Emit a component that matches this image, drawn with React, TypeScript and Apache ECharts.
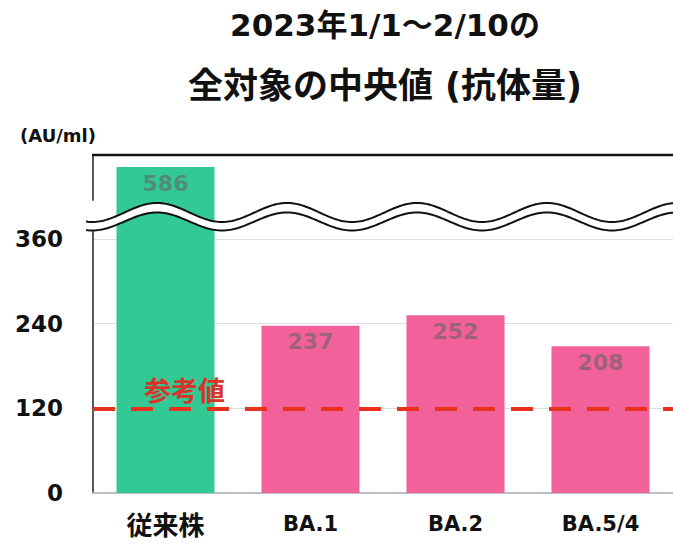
import React, { useEffect, useRef } from 'react';
import * as echarts from 'echarts';

const categories = ['従来株', 'BA.1', 'BA.2', 'BA.5/4'];
const values = [586, 237, 252, 208];
const barColors = ['#33C994', '#F2619A', '#F2619A', '#F2619A'];
const yTicks = [0, 120, 240, 360];
const referenceValue = 120;
const referenceLabel = '参考値';
const unitLabel = '(AU/ml)';
const titleLines = ['2023年1/1～2/10の', '全対象の中央値 (抗体量)'];

const FONT = '"DejaVu Sans", "Noto Sans CJK JP", sans-serif';

function wavePoints(center: number, amp: number, x0: number, x1: number): number[][] {
  const pts: number[][] = [];
  for (let x = x0; x <= x1; x += 2) {
    pts.push([x, center - amp * Math.cos((2 * Math.PI * (x - 157)) / 130)]);
  }
  return pts;
}

export default function App() {
  const ref = useRef<HTMLDivElement>(null);
  useEffect(() => {
    document.body.style.margin = '0';
    const chart = echarts.init(ref.current!, null, { renderer: 'svg' });
    const upper = wavePoints(212.5, 9.5, 86, 676);
    const lower = wavePoints(221.5, 9, 86, 676);
    const band = upper.concat(lower.slice().reverse());
    chart.setOption({
      animation: false,
      title: [
        {
          text: titleLines[0],
          left: 385,
          textAlign: 'center',
          top: 9,
          padding: 0,
          textStyle: { fontFamily: FONT, fontSize: 31, fontWeight: 'bold', color: '#111' },
        },
        {
          text: titleLines[1],
          left: 385,
          textAlign: 'center',
          top: 68,
          padding: 0,
          textStyle: { fontFamily: FONT, fontSize: 35, fontWeight: 'bold', color: '#111' },
        },
      ],
      grid: { left: 93, top: 155, width: 588, height: 338 },
      xAxis: {
        type: 'category',
        data: categories,
        axisLine: { show: true, lineStyle: { color: '#BFBFBF', width: 2 } },
        axisTick: { show: false },
        axisLabel: {
          interval: 0,
          hideOverlap: false,
          margin: 20,
          fontFamily: FONT,
          fontSize: 21,
          fontWeight: 'bold',
          color: '#111',
          formatter: (v: string) => (/[^\x00-\x7f]/.test(v) ? `{cjk|${v}}` : v),
          rich: {
            cjk: { fontFamily: FONT, fontSize: 26, fontWeight: 'bold', color: '#111' },
          },
        },
      },
      yAxis: {
        type: 'value',
        min: 0,
        max: 603,
        interval: 120,
        breaks: [{ start: 370, end: 540, gap: 46 }],
        breakArea: { show: false, expandOnClick: false },
        axisLine: { show: true, lineStyle: { color: '#595959', width: 2 } },
        axisTick: { show: false, customValues: yTicks },
        splitLine: { show: true, lineStyle: { color: '#DDDDDD', width: 1 } },
        axisLabel: {
          customValues: yTicks,
          margin: 30,
          fontFamily: FONT,
          fontSize: 23,
          fontWeight: 'bold',
          color: '#111',
        },
      },
      series: [
        {
          type: 'bar',
          barWidth: 98,
          data: values.map((v, i) => ({ value: v, itemStyle: { color: barColors[i] } })),
          label: {
            show: true,
            position: 'insideTop',
            distance: 5,
            fontFamily: FONT,
            fontSize: 22,
            fontWeight: 'bold',
            color: 'rgba(100,100,100,0.6)',
          },
          markLine: {
            silent: true,
            symbol: 'none',
            data: [{ yAxis: referenceValue }],
            lineStyle: { color: '#E8321E', width: 4, type: [22, 16] },
            label: { show: false },
          },
        },
      ],
      graphic: [
        {
          type: 'polygon',
          z: 100,
          shape: { points: band },
          style: { fill: '#fff', stroke: null },
        },
        {
          type: 'polyline',
          z: 101,
          shape: { points: upper },
          style: { stroke: '#111', lineWidth: 2, fill: null },
        },
        {
          type: 'polyline',
          z: 101,
          shape: { points: lower },
          style: { stroke: '#111', lineWidth: 2, fill: null },
        },
        {
          type: 'line',
          z: 101,
          shape: { x1: 92, y1: 155, x2: 673, y2: 155 },
          style: { stroke: '#111', lineWidth: 2.5 },
        },
        {
          type: 'text',
          z: 102,
          x: 58,
          y: 135,
          style: {
            text: unitLabel,
            fontFamily: FONT,
            fontSize: 18,
            fontWeight: 'bold',
            fill: '#111',
            align: 'center',
            verticalAlign: 'middle',
          },
        },
        {
          type: 'text',
          z: 102,
          x: 144,
          y: 391,
          style: {
            text: referenceLabel,
            fontFamily: FONT,
            fontSize: 27,
            fontWeight: 'bold',
            fill: '#D8352A',
            align: 'left',
            verticalAlign: 'middle',
          },
        },
      ],
    });
    return () => chart.dispose();
  }, []);
  return <div ref={ref} style={{ width: 673, height: 547 }} />;
}
